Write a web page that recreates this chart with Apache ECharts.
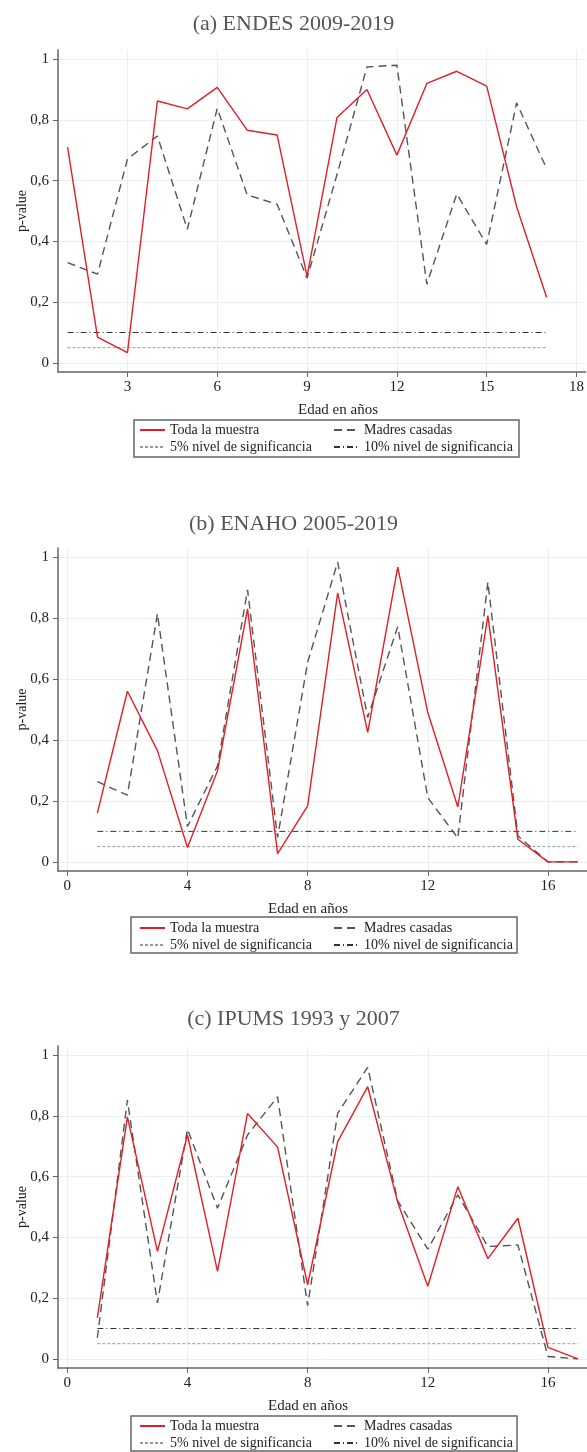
<!DOCTYPE html>
<html>
<head>
<meta charset="utf-8">
<script src="https://cdn.jsdelivr.net/npm/echarts@6/dist/echarts.min.js"></script>
<style>
html, body { margin: 0; padding: 0; background: #fff; }
#main { width: 587px; height: 1452px; }
</style>
</head>
<body>
<div id="main"></div>
<script>
// edades 1..17
var ages = [1, 2, 3, 4, 5, 6, 7, 8, 9, 10, 11, 12, 13, 14, 15, 16, 17];

// (a) ENDES 2009-2019
var endesToda   = [0.71, 0.085, 0.034, 0.862, 0.836, 0.907, 0.766, 0.75, 0.285, 0.808, 0.90, 0.684, 0.92, 0.96, 0.911, 0.514, 0.216];
var endesMadres = [0.33, 0.292, 0.671, 0.747, 0.44, 0.838, 0.553, 0.522, 0.279, 0.62, 0.974, 0.98, 0.259, 0.556, 0.39, 0.856, 0.64];

// (b) ENAHO 2005-2019
var enahoToda   = [0.16, 0.56, 0.365, 0.047, 0.299, 0.83, 0.027, 0.184, 0.883, 0.425, 0.967, 0.49, 0.18, 0.808, 0.074, 0, 0];
var enahoMadres = [0.263, 0.219, 0.814, 0.116, 0.315, 0.893, 0.08, 0.655, 0.984, 0.474, 0.772, 0.211, 0.078, 0.918, 0.085, 0, 0];

// (c) IPUMS 1993 y 2007
var ipumsToda   = [0.135, 0.797, 0.354, 0.737, 0.288, 0.808, 0.697, 0.244, 0.715, 0.896, 0.515, 0.239, 0.567, 0.33, 0.463, 0.038, 0];
var ipumsMadres = [0.069, 0.852, 0.184, 0.756, 0.496, 0.737, 0.863, 0.175, 0.808, 0.96, 0.52, 0.361, 0.54, 0.37, 0.375, 0.008, 0];

// niveles de significancia
var sigX = [1, 17];
var sig5 = [0.05, 0.05];
var sig10 = [0.1, 0.1];

var yTicks = [0, 0.2, 0.4, 0.6, 0.8, 1];
var xTicksA = [3, 6, 9, 12, 15, 18];
var xTicksB = [0, 4, 8, 12, 16];

var panelTitles = ['(a) ENDES 2009-2019', '(b) ENAHO 2005-2019', '(c) IPUMS 1993 y 2007'];
var names = ['Toda la muestra', 'Madres casadas', '5% nivel de significancia', '10% nivel de significancia'];

var FONT = '"Liberation Serif", "DejaVu Serif", serif';

function pairs(xs, ys) {
    var out = [];
    for (var i = 0; i < xs.length; i++) {
        out.push([xs[i], ys[i]]);
    }
    return out;
}

var dom = document.getElementById('main');
var myChart = echarts.init(dom, null, { renderer: 'canvas' });

var grids = [
    { left: 58, top: 50, width: 529, height: 322 },
    { left: 58, top: 548, width: 529, height: 323 },
    { left: 58, top: 1046, width: 529, height: 322 }
];
var xRanges = [[0.68, 18.3], [-0.31, 17.3], [-0.31, 17.3]];
var xTickSets = [xTicksA, xTicksB, xTicksB];
var panelData = [
    [endesToda, endesMadres],
    [enahoToda, enahoMadres],
    [ipumsToda, ipumsMadres]
];
var titleTops = [8, 508, 1003];
var xNamePos = [[338, 403], [308, 902], [308, 1399]];
var legendRows = [423, 921, 1419];
var legendBox = [[134, 420, 385, 37], [131, 917, 386, 36], [131, 1416, 386, 35]];

var xAxes = [], yAxes = [], series = [], titles = [], legends = [], graphics = [];

for (var p = 0; p < 3; p++) {
    xAxes.push({
        type: 'value',
        gridIndex: p,
        min: xRanges[p][0],
        max: xRanges[p][1],
        axisLine: { show: true, onZero: false, lineStyle: { color: '#666', width: 1.5 } },
        axisTick: { show: true, length: 5, customValues: xTickSets[p], lineStyle: { color: '#666' } },
        axisLabel: { customValues: xTickSets[p], color: '#222', fontFamily: FONT, fontSize: 15, margin: 8 },
        splitLine: { show: true, lineStyle: { color: '#e8f0f2', width: 1 } }
    });
    yAxes.push({
        type: 'value',
        gridIndex: p,
        min: -0.03,
        max: 1.03,
        axisLine: { show: true, onZero: false, lineStyle: { color: '#666', width: 1.5 } },
        axisTick: { show: true, length: 5, customValues: yTicks, lineStyle: { color: '#666' } },
        axisLabel: {
            customValues: yTicks,
            color: '#222', fontFamily: FONT, fontSize: 15, margin: 9,
            formatter: function (v) { return String(v).replace('.', ','); }
        },
        name: 'p-value',
        nameLocation: 'middle',
        nameGap: 29,
        nameMoveOverlap: false,
        nameTextStyle: { color: '#222', fontFamily: FONT, fontSize: 14 },
        splitLine: { show: true, lineStyle: { color: '#e8f0f2', width: 1 } }
    });

    series.push({
        name: names[0], type: 'line', xAxisIndex: p, yAxisIndex: p,
        data: pairs(ages, panelData[p][0]), symbol: 'none', z: 4,
        lineStyle: { color: '#e41e26', width: 1.4 }, itemStyle: { color: '#e41e26' }
    });
    series.push({
        name: names[1], type: 'line', xAxisIndex: p, yAxisIndex: p,
        data: pairs(ages, panelData[p][1]), symbol: 'none', z: 3,
        lineStyle: { color: '#555', width: 1.4, type: [8, 5] }, itemStyle: { color: '#555' }
    });
    series.push({
        name: names[2], type: 'line', xAxisIndex: p, yAxisIndex: p,
        data: pairs(sigX, sig5), symbol: 'none', z: 2,
        lineStyle: { color: '#999', width: 1, type: [3, 2] }, itemStyle: { color: '#999' }
    });
    series.push({
        name: names[3], type: 'line', xAxisIndex: p, yAxisIndex: p,
        data: pairs(sigX, sig10), symbol: 'none', z: 2,
        lineStyle: { color: '#333', width: 1, type: [6, 3, 1, 3] }, itemStyle: { color: '#333' }
    });

    titles.push({
        text: panelTitles[p],
        left: 'center',
        top: titleTops[p],
        textStyle: { color: '#555', fontFamily: FONT, fontSize: 22, fontWeight: 'normal' }
    });

    var legendCommon = {
        orient: 'vertical',
        top: legendRows[p],
        padding: 0,
        height: 40,
        itemWidth: 25,
        itemHeight: 14,
        itemGap: 3,
        selectedMode: false,
        itemStyle: { opacity: 0 },
        textStyle: { color: '#222', fontFamily: FONT, fontSize: 14, lineHeight: 14 }
    };
    legends.push(Object.assign({}, legendCommon, { left: 139, data: [names[0], names[2]] }));
    legends.push(Object.assign({}, legendCommon, { left: 333, data: [names[1], names[3]] }));

    graphics.push({
        type: 'text',
        left: xNamePos[p][0] - 40,
        top: xNamePos[p][1],
        style: { text: 'Edad en años', fill: '#222', font: '15px ' + FONT }
    });
    graphics.push({
        type: 'rect',
        shape: { x: legendBox[p][0], y: legendBox[p][1], width: legendBox[p][2], height: legendBox[p][3] },
        style: { fill: 'none', stroke: '#666', lineWidth: 1.5 }
    });
}

var option = {
    animation: false,
    backgroundColor: '#fff',
    title: titles,
    legend: legends,
    grid: grids,
    xAxis: xAxes,
    yAxis: yAxes,
    series: series,
    graphic: graphics
};

if (option && typeof option === 'object') {
    myChart.setOption(option, true);
}
</script>
</body>
</html>
